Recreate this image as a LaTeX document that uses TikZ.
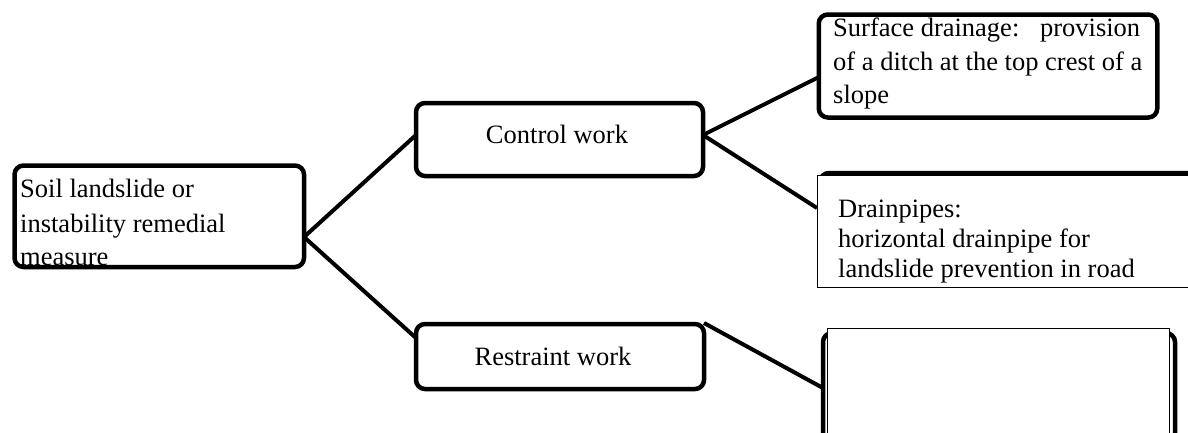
\documentclass[tikz,border=0pt]{standalone}
\usepackage{fontspec}
\setmainfont{Liberation Serif}
\begin{document}
\begin{tikzpicture}[x=1pt,y=-1pt,
  box/.style={draw, line width=4.5pt, rounded corners=9pt, inner sep=0pt, fill=white},
  thinbox/.style={draw, line width=0.8pt, fill=white},
  txt/.style={anchor=base west, inner sep=0pt, font=\fontsize{26.5}{34}\selectfont},
  ctxt/.style={anchor=base, inner sep=0pt, font=\fontsize{26.5}{34}\selectfont},
  link/.style={line width=4pt}]
\useasboundingbox (0,0) rectangle (1188,432);

% boxes
\node[box, minimum width=289.5pt, minimum height=101.5pt] (root) at (159.25,216.25) {};
\node[box, minimum width=287pt, minimum height=73pt] (control) at (559.5,139.5) {};
\node[box, minimum width=288pt, minimum height=65pt] (restraint) at (560,356.5) {};
\node[box, minimum width=338.5pt, minimum height=103pt] (surface) at (988,66) {};

% drainpipes: thick box partly hidden by thin white box
\draw[line width=4.5pt, rounded corners=9pt] (820,173) rectangle (1230,280);
\draw[thinbox] (817,175) rectangle (1200,287);
\coordinate (drain) at (817,208);

% restraint target: thick box with thin white box over it
\draw[line width=4.5pt, rounded corners=9pt] (823,333) rectangle (1175,442);
\draw[thinbox] (827,328) rectangle (1169,450);
\coordinate (rtarget) at (823,388);

% texts
\node[txt] (t1) at (20,197) {Soil landslide or};
\node[txt] (t2) at (20,232) {instability remedial};
\node[txt] (t3) at (20,265) {measure};
\node[ctxt] (tc) at (557,143) {Control work};
\node[ctxt] (tr) at (553,365) {Restraint work};
\node[txt] (s1) at (833,36) {\makebox[307pt][l]{Surface drainage:\hfill provision}};
\node[txt] (s2) at (833,70) {of a ditch at the top crest of a};
\node[txt] (s3) at (833,103) {slope};
\node[txt] (d1) at (838,217) {Drainpipes:};
\node[txt] (d2) at (838,247) {horizontal drainpipe for};
\node[txt] (d3) at (838,277) {landslide prevention in road};

% connector anchor points
\coordinate (rootR) at (304,237);
\coordinate (ctlL) at (416,135);
\coordinate (resL) at (416,338);
\coordinate (ctlR) at (703,135);
\coordinate (surfL) at (819,77);
\coordinate (resR) at (704,323);

\draw[link] (rootR) -- (ctlL);
\draw[link] (rootR) -- (resL);
\draw[link] (ctlR) -- (surfL);
\draw[link] (ctlR) -- (drain);
\draw[link] (resR) -- (rtarget);
\end{tikzpicture}
\end{document}
